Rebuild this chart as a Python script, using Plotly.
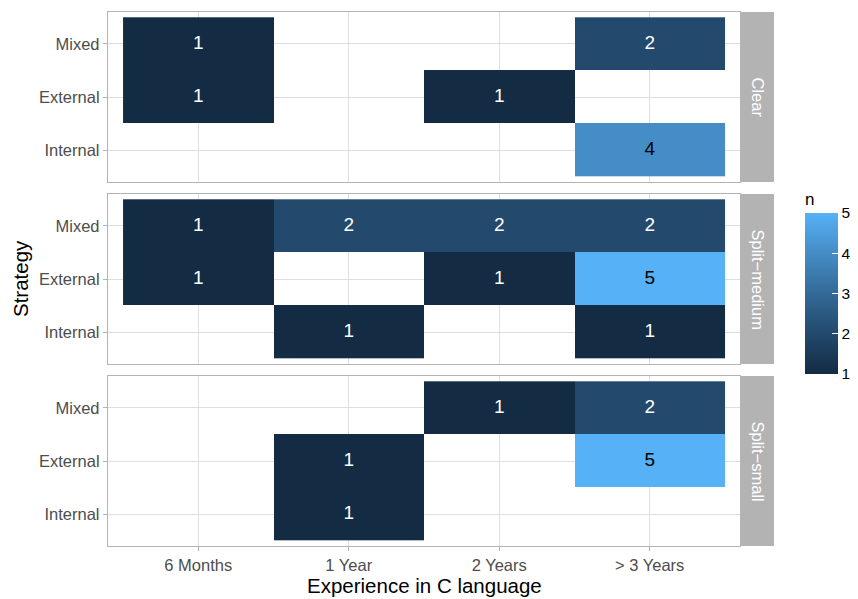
import plotly.graph_objects as go
import numpy as np

# ---------------- data ----------------
experience = ["6 Months", "1 Year", "2 Years", "> 3 Years"]
strategies = ["Internal", "External", "Mixed"]   # bottom -> top
facets = ["Clear", "Split\u2212medium", "Split\u2212small"]

# rows follow `strategies`, columns follow `experience`; None = no tile
clear_n = [
    [None, None, None, 4],     # Internal
    [1, None, 1, None],        # External
    [1, None, None, 2],        # Mixed
]
split_medium_n = [
    [None, 1, None, 1],
    [1, None, 1, 5],
    [1, 2, 2, 2],
]
split_small_n = [
    [None, 1, None, None],
    [None, 1, None, 5],
    [None, None, 1, 2],
]
facet_values = [clear_n, split_medium_n, split_small_n]
n_ticks = [1, 2, 3, 4, 5]

# ---------------- colour scale (ggplot default, Lab interpolation) ----------------
def hex2rgb(h):
    h = h.lstrip("#")
    return np.array([int(h[i:i + 2], 16) / 255 for i in (0, 2, 4)])

def srgb2lin(c):
    return np.where(c <= 0.04045, c / 12.92, ((c + 0.055) / 1.055) ** 2.4)

def lin2srgb(c):
    return np.where(c <= 0.0031308, 12.92 * c, 1.055 * np.clip(c, 0, None) ** (1 / 2.4) - 0.055)

M = np.array([[0.4124, 0.3576, 0.1805], [0.2126, 0.7152, 0.0722], [0.0193, 0.1192, 0.9505]])
Minv = np.linalg.inv(M)
WP = np.array([0.95047, 1.0, 1.08883])

def f(t):
    return np.where(t > (6 / 29) ** 3, np.cbrt(t), t / (3 * (6 / 29) ** 2) + 4 / 29)

def finv(t):
    return np.where(t > 6 / 29, t ** 3, 3 * (6 / 29) ** 2 * (t - 4 / 29))

def rgb2lab(rgb):
    xyz = M @ srgb2lin(rgb) / WP
    fx, fy, fz = f(xyz)
    return np.array([116 * fy - 16, 500 * (fx - fy), 200 * (fy - fz)])

def lab2rgb(lab):
    L, a, b = lab
    fy = (L + 16) / 116
    fx = fy + a / 500
    fz = fy - b / 200
    xyz = finv(np.array([fx, fy, fz])) * WP
    rgb = lin2srgb(Minv @ xyz)
    return np.clip(rgb, 0, 1)

lo, hi = rgb2lab(hex2rgb("#132B43")), rgb2lab(hex2rgb("#56B1F7"))
colorscale = []
for t in np.linspace(0, 1, 11):
    r, g, b = (lab2rgb(lo + (hi - lo) * t) * 255).round().astype(int)
    colorscale.append([float(t), f"rgb({r},{g},{b})"])

# ---------------- figure ----------------
W, H = 858, 599
FONT = "Liberation Sans, Arial, sans-serif"
GRID = "#DEDEDE"
BORDER = "#B3B3B3"
px_x = lambda v: v / W
px_y = lambda v: 1 - v / H

panel_x = (108, 740)
panel_y = [(12, 182), (194, 364), (376, 546)]

fig = go.Figure()
xs = list(range(len(experience)))
ys = list(range(len(strategies)))

for i, (name, vals) in enumerate(zip(facets, facet_values)):
    ax = "" if i == 0 else str(i + 1)
    z = [[np.nan if v is None else v for v in row] for row in vals]
    fig.add_trace(go.Heatmap(
        x=xs, y=ys, z=z, coloraxis="coloraxis", xgap=0, ygap=0,
        hoverongaps=False, xaxis="x" + ax, yaxis="y" + ax,
    ))
    tx, ty, tt, tc = [], [], [], []
    for r, row in enumerate(vals):
        for c, v in enumerate(row):
            if v is not None:
                tx.append(c); ty.append(r); tt.append(str(v))
                tc.append("black" if v > 3 else "white")
    fig.add_trace(go.Scatter(
        x=tx, y=ty, text=tt, mode="text", xaxis="x" + ax, yaxis="y" + ax,
        textfont=dict(color=tc, size=19, family=FONT), showlegend=False, hoverinfo="skip",
    ))
    y0, y1 = panel_y[i]
    bottom = i == len(facets) - 1
    fig.layout["xaxis" + ax] = dict(
        domain=[px_x(panel_x[0]), px_x(panel_x[1])], anchor="y" + ax,
        range=[-0.6, len(experience) - 0.4], tickvals=xs,
        ticktext=experience if bottom else [""] * len(xs),
        showticklabels=bottom, ticks="outside" if bottom else "", ticklen=4,
        tickcolor=BORDER, showgrid=True, gridcolor=GRID, gridwidth=1,
        showline=True, mirror=True, linecolor=BORDER, linewidth=1.3,
        zeroline=False, tickfont=dict(size=16.5, color="#4D4D4D", family=FONT),
        fixedrange=True, automargin=False,
    )
    fig.layout["yaxis" + ax] = dict(
        domain=[px_y(y1), px_y(y0)], anchor="x" + ax,
        range=[-0.6, len(strategies) - 0.4], tickvals=ys, ticktext=strategies,
        ticks="outside", ticklen=4, tickcolor=BORDER, showgrid=True,
        gridcolor=GRID, gridwidth=1, showline=True, mirror=True,
        linecolor=BORDER, linewidth=1.3, zeroline=False,
        tickfont=dict(size=16.5, color="#4D4D4D", family=FONT), fixedrange=True,
        automargin=False,
    )
    # strip
    fig.add_shape(type="rect", xref="paper", yref="paper",
                  x0=px_x(741), x1=px_x(774), y0=px_y(y1), y1=px_y(y0),
                  fillcolor=BORDER, line_width=0, layer="below")
    fig.add_annotation(text=name, xref="paper", yref="paper",
                       x=px_x(757.5), y=px_y((y0 + y1) / 2), showarrow=False,
                       xanchor="center", yanchor="middle",
                       textangle=90, font=dict(size=16.5, color="white", family=FONT))

fig.add_annotation(text="Strategy", xref="paper", yref="paper", x=px_x(20),
                   y=px_y((panel_y[0][0] + panel_y[-1][1]) / 2), showarrow=False,
                   xanchor="center", yanchor="middle",
                   textangle=-90, font=dict(size=20.5, color="black", family=FONT))
fig.add_annotation(text="Experience in C language", xref="paper", yref="paper",
                   x=px_x(sum(panel_x) / 2), y=px_y(585), showarrow=False,
                   xanchor="center", yanchor="middle",
                   font=dict(size=20.5, color="black", family=FONT))

fig.update_layout(
    width=W, height=H, margin=dict(l=0, r=0, t=0, b=0, autoexpand=False),
    paper_bgcolor="white", plot_bgcolor="white", showlegend=False,
    coloraxis=dict(
        colorscale=colorscale, cmin=1, cmax=5,
        colorbar=dict(
            title=dict(text="n", side="top", font=dict(size=17, color="black", family=FONT)),
            x=px_x(805), xanchor="left", y=px_y(189), yanchor="top",
            len=185, lenmode="pixels", thickness=33, thicknessmode="pixels",
            outlinewidth=0, tickvals=n_ticks, ticks="inside", ticklen=6,
            tickcolor="white", tickwidth=1.2, xpad=0, ypad=0,
            tickfont=dict(size=15.5, color="black", family=FONT),
        ),
    ),
)

fig.write_html("out.html", post_script="document.body.style.margin='0px';",
               config={"displayModeBar": False})
